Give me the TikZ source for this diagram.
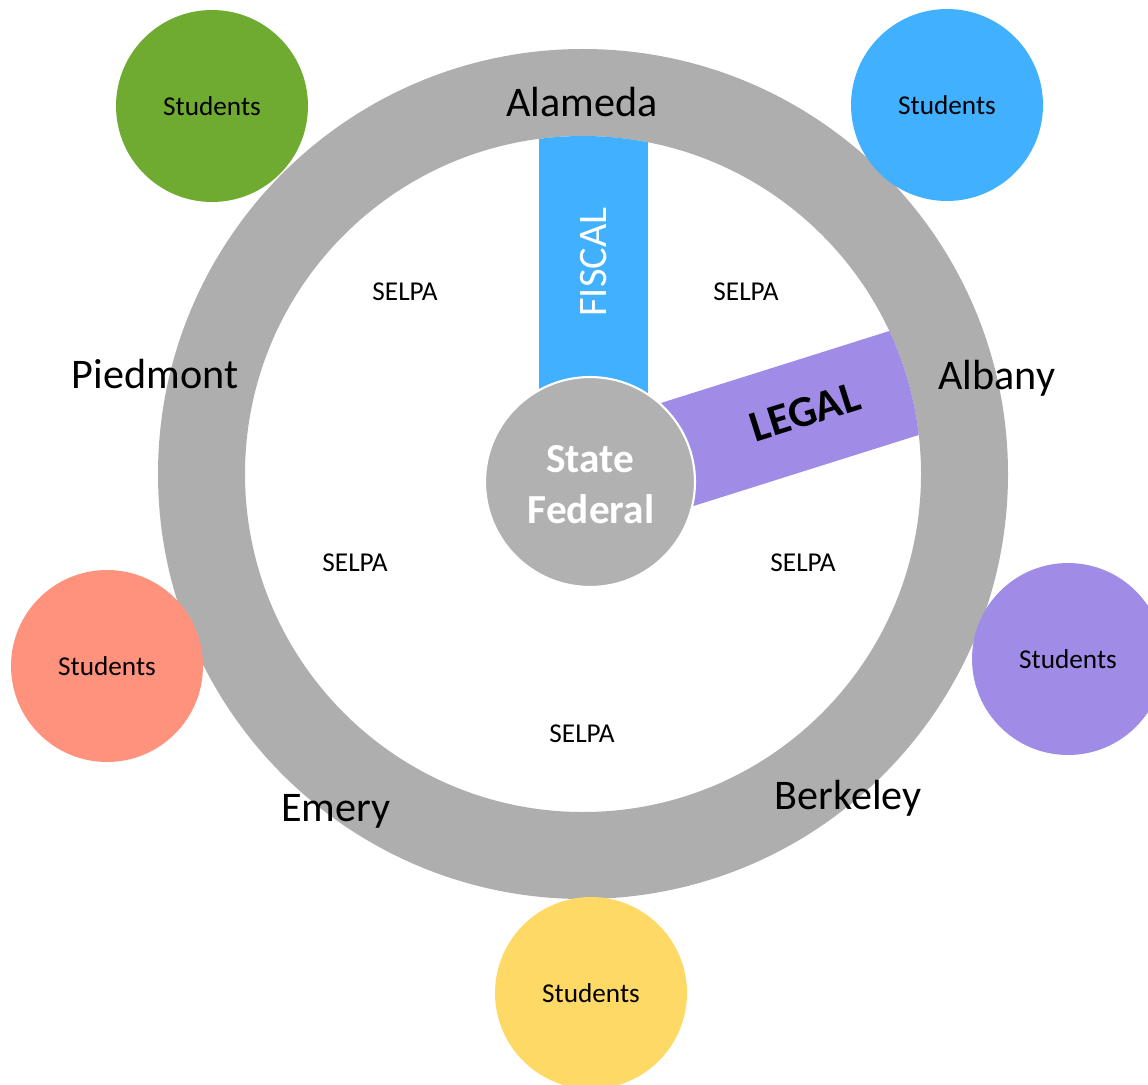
\documentclass[tikz,border=0pt]{standalone}
\usepackage{fontspec}
\setmainfont{Carlito}
\usepackage{xcolor}
\usepackage{tikz}

\definecolor{ringgray}{HTML}{AEAEAE}
\definecolor{hubgray}{HTML}{B1B1B1}
\definecolor{fiscalblue}{HTML}{41B0FF}
\definecolor{legalpurple}{HTML}{A08BE6}
\definecolor{grpgreen}{HTML}{6EAB30}
\definecolor{grpsalmon}{HTML}{FF927D}
\definecolor{grpyellow}{HTML}{FFD966}

\tikzset{
  students/.style={circle, minimum size=3.84cm, inner sep=0pt, font=\fontsize{15.5}{18}\selectfont},
  selpa/.style={font=\fontsize{15.5}{18}\selectfont},
  city/.style={font=\fontsize{24}{28}\selectfont},
}

\begin{document}
\begin{tikzpicture}[x=0.02cm, y=-0.02cm]
    \clip (0,0) rectangle (1148,1084);

    % Ring of districts
    \fill[ringgray, even odd rule] (583,474) circle (425) circle (338);

    % Bars from the hub, kept inside the ring
    \begin{scope}
        \clip (583,474) circle (338);
        \fill[fiscalblue] (539,100) rectangle (648,480);
        \fill[legalpurple, rotate around={17.5:(590,482)}] (590,428) rectangle (1000,536);
    \end{scope}
    \node[text=white, rotate=90, font=\fontsize{23}{28}\selectfont] (fiscal) at (594,262) {FISCAL};
    \node[rotate=17.5, font=\bfseries\fontsize{25}{30}\selectfont] (legal) at (805,412) {LEGAL};

    % Hub
    \node[circle, fill=hubgray, draw=white, line width=1.2pt, minimum size=4.2cm, inner sep=0pt] (hub) at (590,482) {};
    \node[text=white, font=\bfseries\fontsize{23.5}{28}\selectfont] (state) at (590,459) {State};
    \node[text=white, font=\bfseries\fontsize{23.5}{28}\selectfont] (federal) at (591,509) {Federal};

    % Districts
    \node[city] (alameda) at (582,102) {Alameda};
    \node[city] (albany) at (997,378) {Albany};
    \node[city] (piedmont) at (155,374) {Piedmont};
    \node[city] (emery) at (336,811) {Emery};
    \node[city] (berkeley) at (848,798) {Berkeley};

    % SELPA labels
    \node[selpa] (selpa1) at (405,292) {SELPA};
    \node[selpa] (selpa2) at (746,292) {SELPA};
    \node[selpa] (selpa3) at (355,563) {SELPA};
    \node[selpa] (selpa4) at (803,563) {SELPA};
    \node[selpa] (selpa5) at (582,734) {SELPA};

    % Students around the ring
    \node[students, fill=grpgreen] (stgreen) at (212,106) {Students};
    \node[students, fill=fiscalblue] (stblue) at (947,105) {Students};
    \node[students, fill=grpsalmon] (stsalmon) at (107,666) {Students};
    \node[students, fill=legalpurple] (stpurple) at (1068,659) {Students};
    \node[students, fill=grpyellow] (styellow) at (591,993) {Students};
\end{tikzpicture}
\end{document}
